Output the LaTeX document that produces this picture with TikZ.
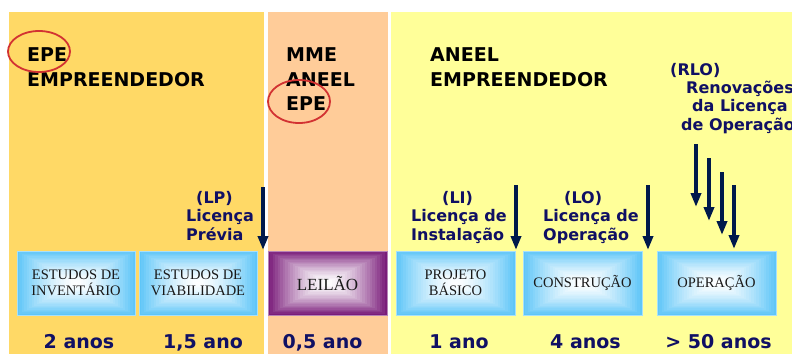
\documentclass[tikz,border=0pt]{standalone}
\usepackage{fontspec}
\setmainfont{Liberation Serif}
\newfontfamily\dvs{DejaVu Sans}
\usetikzlibrary{arrows.meta,calc,shapes.geometric}

\definecolor{gold}{RGB}{255,217,102}
\definecolor{peach}{RGB}{255,204,153}
\definecolor{lemon}{RGB}{255,255,153}
\definecolor{navy}{RGB}{16,16,100}
\definecolor{arrowblue}{RGB}{0,25,75}
\definecolor{skyedge}{RGB}{95,198,248}
\definecolor{plum}{RGB}{122,28,122}
\definecolor{ringred}{RGB}{210,50,50}

\tikzset{
  head/.style={anchor=base west, font=\dvs\bfseries\fontsize{19}{19}\selectfont, text=black, inner sep=0},
  lic/.style={anchor=base west, font=\dvs\bfseries\fontsize{16}{16}\selectfont, text=navy, inner sep=0},
  dur/.style={anchor=base, font=\dvs\bfseries\fontsize{19}{19}\selectfont, text=navy, inner sep=0},
  ring/.style={ellipse, draw=ringred, line width=1.8pt, inner sep=0, minimum width=62pt, minimum height=41pt},
  grad/.style={path picture={
      \foreach \i in {0,...,24}{
        \pgfmathsetmacro\f{1-\i/24}
        \pgfmathsetmacro\p{100*\f*sqrt(\f)}
        \fill[#1!\p!white]
          ($(path picture bounding box.center)!\f!(path picture bounding box.north east)$)
          rectangle
          ($(path picture bounding box.center)!\f!(path picture bounding box.south west)$);
      }}},
  stage/.style={rectangle, minimum width=118pt, minimum height=64pt, inner sep=0,
    align=center, font=\fontsize{14.5}{16.5}\selectfont, text=black!90,
    draw=#1!55!white, line width=0.8pt, grad=#1},
  licarrow/.style={draw=arrowblue, line width=3.5pt, -{Triangle[width=10pt,length=14pt]}}
}

\begin{document}
\begin{tikzpicture}[x=1pt,y=-1pt]
\useasboundingbox (0,0) rectangle (792,354);
\fill[white] (0,0) rectangle (792,354);

% panels
\fill[gold]  (9,12)   rectangle (264,354);
\fill[peach] (268,12) rectangle (388,354);
\fill[lemon] (391,12) rectangle (792,354);

% headings
\node[head] (h1a) at (27,61) {EPE};
\node[head] (h1b) at (27,86) {EMPREENDEDOR};
\node[head] (h2a) at (286,61) {MME};
\node[head] (h2b) at (286,86) {ANEEL};
\node[head] (h2c) at (286,110) {EPE};
\node[head] (h3a) at (430,61) {ANEEL};
\node[head] (h3b) at (430,86) {EMPREENDEDOR};

\node[ring] (ring1) at (39,51.5) {};
\node[ring, minimum height=43pt] (ring2) at (299,101.5) {};

% stage boxes
\node[stage=skyedge] (inv)  at (76,283)    {ESTUDOS DE\\INVENTÁRIO};
\node[stage=skyedge] (via)  at (198,283)   {ESTUDOS DE\\VIABILIDADE};
\node[stage=plum, minimum width=119pt, font=\fontsize{17}{17}\selectfont] (lei) at (327.5,283) {LEILÃO};
\node[stage=skyedge, minimum width=119pt] (proj) at (455.5,283) {PROJETO\\BÁSICO};
\node[stage=skyedge, minimum width=119pt] (cons) at (582.5,283) {CONSTRUÇÃO};
\node[stage=skyedge, minimum width=119pt] (oper) at (716.5,283) {OPERAÇÃO};

% licence labels
\node[lic] (lp1) at (196,203) {(LP)};
\node[lic] (lp2) at (186,221.5) {Licença};
\node[lic] (lp3) at (186,240) {Prévia};

\node[lic] (li1) at (442,203) {(LI)};
\node[lic] (li2) at (411,221.5) {Licença de};
\node[lic] (li3) at (411,240) {Instalação};

\node[lic] (lo1) at (564,203) {(LO)};
\node[lic] (lo2) at (543,221.5) {Licença de};
\node[lic] (lo3) at (543,240) {Operação};

\node[lic] (rl1) at (670,75.7) {(RLO)};
\node[lic] (rl2) at (686,93.3) {Renovações};
\node[lic] (rl3) at (692,111.7) {da Licença};
\node[lic] (rl4) at (681,130) {de Operação};

% arrows
\coordinate (lpT) at (263,187);  \coordinate (lpB) at (263,250);
\coordinate (liT) at (516,185);  \coordinate (liB) at (516,250);
\coordinate (loT) at (648,185);  \coordinate (loB) at (648,250);
\coordinate (r1T) at (696,144);  \coordinate (r1B) at (696,207);
\coordinate (r2T) at (709,158);  \coordinate (r2B) at (709,221);
\coordinate (r3T) at (722,172);  \coordinate (r3B) at (722,235);
\coordinate (r4T) at (734,185);  \coordinate (r4B) at (734,249);
\draw[licarrow] (lpT) -- (lpB);
\draw[licarrow] (liT) -- (liB);
\draw[licarrow] (loT) -- (loB);
\draw[licarrow] (r1T) -- (r1B);
\draw[licarrow] (r2T) -- (r2B);
\draw[licarrow] (r3T) -- (r3B);
\draw[licarrow] (r4T) -- (r4B);

% durations
\node[dur] (d1) at (79,348)    {2 anos};
\node[dur] (d2) at (203,348)   {1,5 ano};
\node[dur] (d3) at (322.5,348) {0,5 ano};
\node[dur] (d4) at (459,348)   {1 ano};
\node[dur] (d5) at (585.5,348) {4 anos};
\node[dur] (d6) at (718.5,348) {> 50 anos};
\end{tikzpicture}
\end{document}
